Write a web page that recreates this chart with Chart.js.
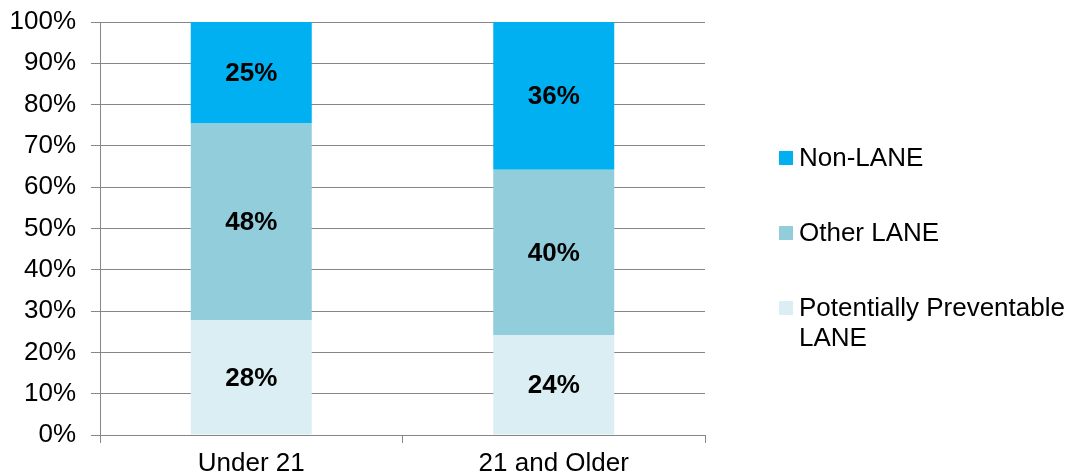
<!DOCTYPE html>
<html>
<head>
<meta charset="utf-8">
<script src="https://cdn.jsdelivr.net/npm/chart.js@4/dist/chart.umd.min.js"></script>
<style>
html,body{margin:0;padding:0;background:#fff;}
#wrap{width:1073px;height:476px;position:relative;}
</style>
</head>
<body>
<div id="wrap"><canvas id="c" width="1073" height="476"></canvas></div>
<script>
const categories = ["Under 21", "21 and Older"];
const seriesNames = ["Potentially Preventable LANE", "Other LANE", "Non-LANE"];
const legendLines = [["Potentially Preventable", "LANE"], ["Other LANE"], ["Non-LANE"]];
const preventable = [27.8, 24.2];
const otherLane = [47.6, 40.0];
const nonLane = [24.6, 35.8];
const yTicks = [0, 10, 20, 30, 40, 50, 60, 70, 80, 90, 100];
const colors = ["#DAEEF3", "#92CDDC", "#00B0F0"];

const FONT = "'Liberation Sans', Arial, sans-serif";
const GRID = "#868686";
const FS = 26;

const dataLabels = {
  id: 'dataLabels',
  afterDatasetsDraw(chart) {
    const ctx = chart.ctx;
    ctx.save();
    ctx.font = "bold " + FS + "px " + FONT;
    ctx.fillStyle = "#000";
    ctx.textAlign = "center";
    ctx.textBaseline = "middle";
    chart.data.datasets.forEach((ds, i) => {
      chart.getDatasetMeta(i).data.forEach((bar, j) => {
        ctx.fillText(Math.round(ds.data[j]) + "%", bar.x, (bar.y + bar.base) / 2 + 1);
      });
    });
    ctx.restore();
  }
};

const customLegend = {
  id: 'customLegend',
  afterDraw(chart) {
    const ctx = chart.ctx;
    ctx.save();
    ctx.font = FS + "px " + FONT;
    ctx.textBaseline = "middle";
    ctx.textAlign = "left";
    const ys = [308, 233, 158];
    chart.data.datasets.forEach((ds, i) => {
      const y = ys[i];
      ctx.fillStyle = ds.backgroundColor;
      ctx.fillRect(779, y - 7, 14, 14);
      ctx.fillStyle = "#000";
      legendLines[i].forEach((line, k) => {
        ctx.fillText(line, 799, y + 1 + k * 30);
      });
    });
    ctx.restore();
  }
};

new Chart(document.getElementById('c'), {
  type: 'bar',
  data: {
    labels: categories,
    datasets: [
      { label: seriesNames[0], data: preventable, backgroundColor: colors[0] },
      { label: seriesNames[1], data: otherLane, backgroundColor: colors[1] },
      { label: seriesNames[2], data: nonLane, backgroundColor: colors[2] }
    ]
  },
  options: {
    responsive: false,
    animation: false,
    devicePixelRatio: 1,
    layout: { padding: { left: 0, right: 368, top: 22, bottom: 0 } },
    datasets: { bar: { categoryPercentage: 1, barPercentage: 0.4, borderWidth: 0 } },
    plugins: { legend: { display: false }, tooltip: { enabled: false } },
    scales: {
      x: {
        stacked: true,
        offset: true,
        grid: { display: true, offset: true, drawOnChartArea: false, drawTicks: true, tickLength: 8, color: GRID, lineWidth: 1 },
        border: { display: true, color: GRID, width: 1 },
        ticks: { font: { family: FONT, size: FS }, color: "#000", padding: 5, maxRotation: 0 },
        afterFit(s) { s.height = 41; s.paddingLeft = 0; s.paddingRight = 0; }
      },
      y: {
        stacked: true,
        min: 0,
        max: 100,
        afterBuildTicks(s) { s.ticks = yTicks.map(v => ({ value: v })); },
        grid: { color: GRID, lineWidth: 1, tickLength: 9, drawTicks: true },
        border: { display: true, color: GRID, width: 1 },
        ticks: { font: { family: FONT, size: FS }, color: "#000", padding: 15, callback: v => v + "%" },
        afterFit(s) { s.width = 100; s.paddingTop = 0; s.paddingBottom = 0; }
      }
    }
  },
  plugins: [dataLabels, customLegend]
});
</script>
</body>
</html>
